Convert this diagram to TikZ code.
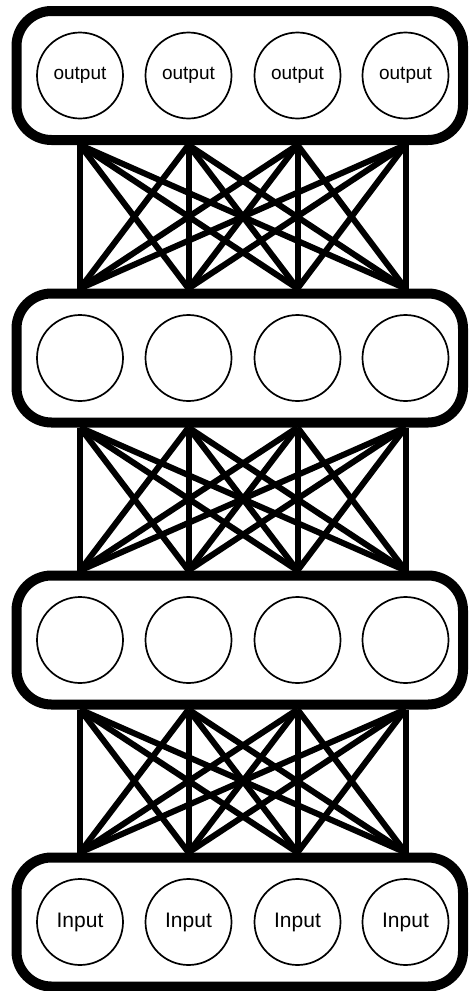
\documentclass[tikz,border=0pt]{standalone}
\usepackage{fontspec}
\setmainfont{Liberation Sans}
\usetikzlibrary{backgrounds}
\begin{document}
\begin{tikzpicture}[x=1pt,y=-1pt,
  layerbox/.style={draw, line width=10pt, rounded corners=35pt, fill=white,
    minimum width=446.5pt, minimum height=129pt, inner sep=0pt},
  neuron/.style={draw, circle, line width=1.7pt, minimum size=86pt, inner sep=0pt, fill=white},
  outtxt/.style={font=\fontsize{19}{19}\selectfont},
  intxt/.style={font=\fontsize{21}{21}\selectfont},
  wire/.style={line width=6pt}]
\useasboundingbox (0,0) rectangle (469,991);
% layer boxes (top to bottom)
\node[layerbox] (L1) at (239.75,75.5) {};
\node[layerbox] (L2) at (239.75,358) {};
\node[layerbox] (L3) at (239.75,640) {};
\node[layerbox] (L4) at (239.75,922) {};
% neurons
\foreach \i/\x in {1/80,2/188.5,3/297.5,4/405.5}{
  \node[neuron,outtxt] (n1\i) at (\x,75.5) {output};
  \node[neuron] (n2\i) at (\x,358) {};
  \node[neuron] (n3\i) at (\x,640) {};
  \node[neuron,intxt] (n4\i) at (\x,922) {Input};
  \coordinate (b1\i) at (n1\i |- L1.south);
  \coordinate (t2\i) at (n2\i |- L2.north);
  \coordinate (b2\i) at (n2\i |- L2.south);
  \coordinate (t3\i) at (n3\i |- L3.north);
  \coordinate (b3\i) at (n3\i |- L3.south);
  \coordinate (t4\i) at (n4\i |- L4.north);
}
\begin{scope}[on background layer]
\foreach \i in {1,2,3,4}{
  \foreach \j in {1,2,3,4}{
    \draw[wire] (b1\i) -- (t2\j);
    \draw[wire] (b2\i) -- (t3\j);
    \draw[wire] (b3\i) -- (t4\j);
  }
}
\end{scope}
\end{tikzpicture}
\end{document}
